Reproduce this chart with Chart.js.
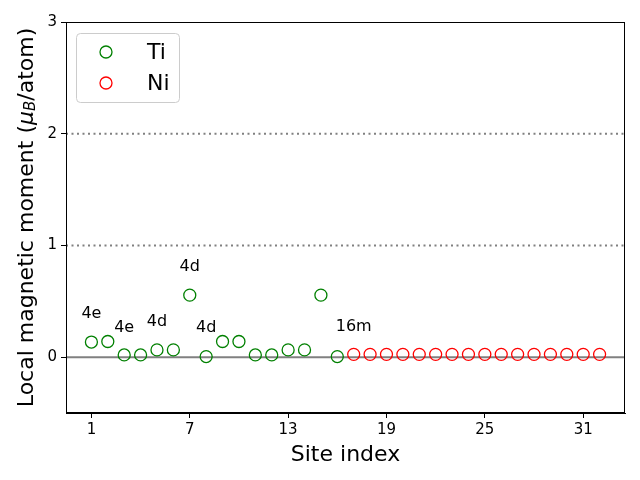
<!DOCTYPE html>
<html>
<head>
<meta charset="utf-8">
<script src="https://cdn.jsdelivr.net/npm/chart.js@4.4.0/dist/chart.umd.min.js"></script>
<style>
html,body{margin:0;padding:0;background:#fff;}
#wrap{width:640px;height:480px;}
</style>
</head>
<body>
<div id="wrap"><canvas id="chart" width="640" height="480"></canvas></div>
<script>
// ===================== Daten =====================
const siteTi   = [1,2,3,4,5,6,7,8,9,10,11,12,13,14,15,16];
const momentTi = [0.135,0.14,0.02,0.02,0.065,0.065,0.555,0.005,0.14,0.14,0.02,0.02,0.065,0.065,0.555,0.005];
const siteNi   = [17,18,19,20,21,22,23,24,25,26,27,28,29,30,31,32];
const momentNi = [0.025,0.025,0.025,0.025,0.025,0.025,0.025,0.025,0.025,0.025,0.025,0.025,0.025,0.025,0.025,0.025];

const wyckoffText = ["4e","4e","4d","4d","4d","16m"];
const wyckoffX    = [1,3,5,7,8,17];
const wyckoffY    = [0.385,0.265,0.315,0.805,0.26,0.275];

const xTicks = [1,7,13,19,25,31];
const yTicks = [0,1,2,3];
const dottedLines = [1,2];
const zeroLine = 0;

const FONT = "'DejaVu Sans', sans-serif";

// ===================== Plugin: Linien, Labels, Legende, Achsentitel =====================
const extras = {
    id:"extras",
    beforeDatasetsDraw(chart){
        const {ctx, chartArea:a, scales:{y}} = chart;
        ctx.save();
        ctx.beginPath(); ctx.rect(a.left,a.top,a.right-a.left,a.bottom-a.top); ctx.clip();
        ctx.strokeStyle="#808080"; ctx.lineWidth=2;
        ctx.setLineDash([2,3.5]);
        dottedLines.forEach(v=>{
            const py=y.getPixelForValue(v);
            ctx.beginPath(); ctx.moveTo(a.left,py); ctx.lineTo(a.right,py); ctx.stroke();
        });
        ctx.setLineDash([]);
        const pz=y.getPixelForValue(zeroLine);
        ctx.beginPath(); ctx.moveTo(a.left,pz); ctx.lineTo(a.right,pz); ctx.stroke();
        ctx.restore();
    },
    afterDraw(chart){
        const {ctx, chartArea:a, scales:{x,y}} = chart;
        ctx.save();
        // Wyckoff-Labels
        ctx.fillStyle="#000"; ctx.font=`16px ${FONT}`;
        ctx.textAlign="center"; ctx.textBaseline="middle";
        wyckoffText.forEach((t,i)=>{
            ctx.fillText(t, x.getPixelForValue(wyckoffX[i]), y.getPixelForValue(wyckoffY[i]));
        });

        // Legende
        const lx=a.left+10, ly=a.top+11;
        ctx.fillStyle="rgba(255,255,255,0.8)";
        ctx.strokeStyle="#cccccc"; ctx.lineWidth=1;
        ctx.beginPath(); ctx.roundRect(lx+0.5,ly+0.5,103,69,4); ctx.fill(); ctx.stroke();
        chart.data.datasets.forEach((ds,i)=>{
            const cy=ly+19+i*31;
            ctx.beginPath(); ctx.arc(lx+30,cy,6,0,Math.PI*2);
            ctx.strokeStyle=ds.borderColor; ctx.lineWidth=1.3; ctx.stroke();
            ctx.fillStyle="#000"; ctx.font=`22px ${FONT}`;
            ctx.textAlign="left"; ctx.textBaseline="middle";
            ctx.fillText(ds.label, lx+71, cy+1);
        });

        // x-Titel
        ctx.font=`22px ${FONT}`; ctx.textAlign="center"; ctx.textBaseline="middle";
        ctx.fillText("Site index",(a.left+a.right)/2,455);

        // y-Titel mit mu_B
        ctx.translate(27,(a.top+a.bottom)/2);
        ctx.rotate(-Math.PI/2);
        const parts=[
            {t:"Local magnetic moment (",f:`22px ${FONT}`,dy:0},
            {t:"μ",f:`italic 22px ${FONT}`,dy:0},
            {t:"B",f:`italic 15px ${FONT}`,dy:4},
            {t:"/atom)",f:`22px ${FONT}`,dy:0}
        ];
        let total=0;
        parts.forEach(p=>{ctx.font=p.f; p.w=ctx.measureText(p.t).width; total+=p.w;});
        let cx=-total/2;
        ctx.textAlign="left";
        parts.forEach(p=>{ctx.font=p.f; ctx.fillText(p.t,cx,p.dy); cx+=p.w;});
        ctx.restore();
    }
};

// ===================== Chart =====================
new Chart(document.getElementById("chart"),{
    type:"scatter",
    data:{
        datasets:[
            {label:"Ti",data:siteTi.map((s,i)=>({x:s,y:momentTi[i]})),
             borderColor:"green",backgroundColor:"rgba(0,0,0,0)",pointRadius:6,pointBorderWidth:1.3,pointHoverRadius:6},
            {label:"Ni",data:siteNi.map((s,i)=>({x:s,y:momentNi[i]})),
             borderColor:"red",backgroundColor:"rgba(0,0,0,0)",pointRadius:6,pointBorderWidth:1.3,pointHoverRadius:6}
        ]
    },
    options:{
        responsive:false, animation:false,
        layout:{padding:{left:0,right:15,top:22,bottom:0}},
        plugins:{legend:{display:false},tooltip:{enabled:false}},
        scales:{
            x:{
                type:"linear", min:-0.55, max:33.55,
                afterBuildTicks:s=>{s.ticks=xTicks.map(v=>({value:v}));},
                afterFit:s=>{s.height=67;},
                grid:{drawOnChartArea:false,drawTicks:true,tickLength:5,color:"#000",tickWidth:1},
                border:{display:true,color:"#000",width:1},
                ticks:{color:"#000",font:{family:FONT,size:15},padding:3,maxRotation:0}
            },
            y:{
                min:-0.5, max:3,
                afterBuildTicks:s=>{s.ticks=yTicks.map(v=>({value:v}));},
                afterFit:s=>{s.width=66;},
                grid:{drawOnChartArea:false,drawTicks:true,tickLength:5,color:"#000",tickWidth:1},
                border:{display:true,color:"#000",width:1},
                ticks:{color:"#000",font:{family:FONT,size:15},padding:4}
            }
        }
    },
    plugins:[extras,{
        id:"frame",
        afterDatasetsDraw(chart){
            const {ctx,chartArea:a}=chart;
            ctx.save(); ctx.strokeStyle="#000"; ctx.lineWidth=1;
            ctx.strokeRect(a.left+0.5,a.top+0.5,a.right-a.left-1,a.bottom-a.top-1);
            ctx.restore();
        }
    }]
});
</script>
</body>
</html>
